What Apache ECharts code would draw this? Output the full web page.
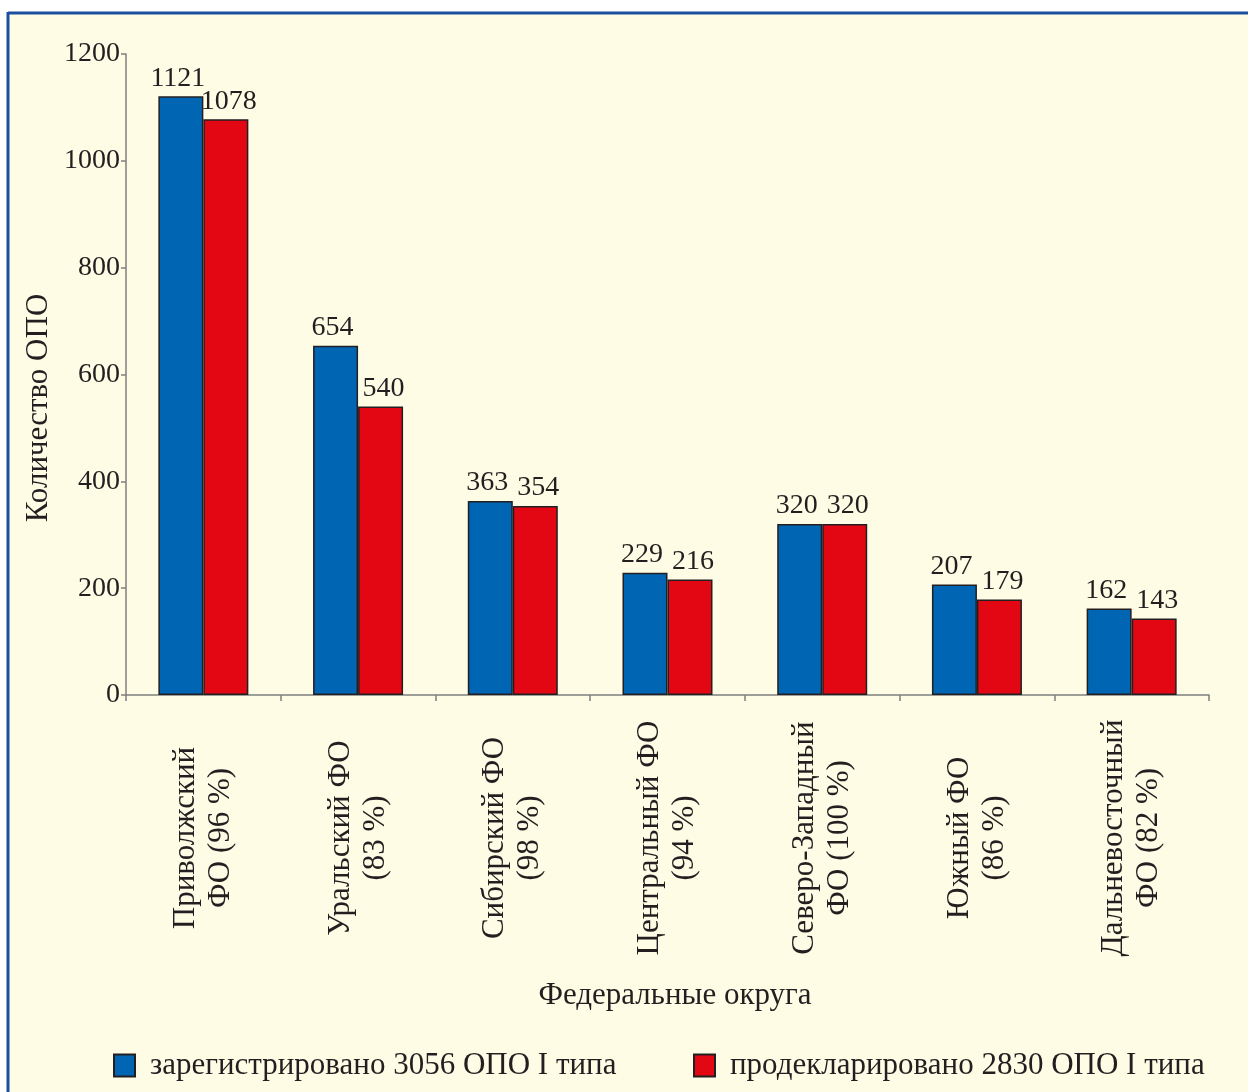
<!DOCTYPE html>
<html>
<head>
<meta charset="utf-8">
<script src="https://cdn.jsdelivr.net/npm/echarts@6/dist/echarts.min.js"></script>
<style>
  html, body { margin: 0; padding: 0; background: #ffffff; }
  #chart { width: 1248px; height: 1092px; }
</style>
</head>
<body>
<div id="chart"></div>
<script>
// Federal districts (share of declared objects in brackets)
const categories = [
  'Приволжский\nФО (96 %)',
  'Уральский ФО\n(83 %)',
  'Сибирский ФО\n(98 %)',
  'Центральный ФО\n(94 %)',
  'Северо-Западный\nФО (100 %)',
  'Южный ФО\n(86 %)',
  'Дальневосточный\nФО (82 %)'
];
const registered = [1121, 654, 363, 229, 320, 207, 162];
const declared = [1078, 540, 354, 216, 320, 179, 143];
const seriesNames = [
  'зарегистрировано 3056 ОПО I типа',
  'продекларировано 2830 ОПО I типа'
];
const yTicks = { min: 0, max: 1200, step: 200 };

const FONT = '"Liberation Serif", "Times New Roman", serif';
const INK = '#231f20';
const AXIS = '#7f7f7f';
const NUM_SIZE = 28;   // digits (ticks, value labels)
const TEXT_SIZE = 31;  // words (axis titles, categories, legend)

const chart = echarts.init(document.getElementById('chart'), null, { renderer: 'canvas' });

// value labels sit a little apart so neighbouring numbers don't touch
function valueLabel(dx) {
  return {
    show: true,
    position: 'top',
    distance: 4,
    offset: [dx, 0],
    fontFamily: FONT,
    fontSize: NUM_SIZE,
    color: INK
  };
}

const legendText = { fontFamily: FONT, fontSize: TEXT_SIZE, color: INK, padding: [0, 0, 0, 10] };

chart.setOption({
  backgroundColor: '#ffffff',
  animation: false,
  textStyle: { fontFamily: FONT, color: INK },
  graphic: [
    { type: 'rect', z: -10, shape: { x: 8, y: 12, width: 1260, height: 1100 }, style: { fill: '#fefce5' } },
    { type: 'line', z: -9, shape: { x1: 8, y1: 13, x2: 1260, y2: 13 }, style: { stroke: '#1b4fa2', lineWidth: 3 } },
    { type: 'line', z: -9, shape: { x1: 8, y1: 12, x2: 8, y2: 1100 }, style: { stroke: '#1b4fa2', lineWidth: 3 } },
    {
      type: 'text', x: 39, y: 408, rotation: Math.PI / 2,
      style: { text: 'Количество ОПО', fontFamily: FONT, fontSize: TEXT_SIZE, fill: INK, align: 'center', verticalAlign: 'middle' }
    },
    {
      type: 'text', x: 675, y: 996,
      style: { text: 'Федеральные округа', fontFamily: FONT, fontSize: TEXT_SIZE, fill: INK, align: 'center', verticalAlign: 'middle' }
    }
  ],
  legend: [
    {
      data: [seriesNames[0]], left: 108, top: 1045,
      itemWidth: 21, itemHeight: 22, icon: 'rect',
      textStyle: legendText
    },
    {
      data: [seriesNames[1]], left: 688, top: 1045,
      itemWidth: 21, itemHeight: 22, icon: 'rect',
      textStyle: legendText
    }
  ],
  grid: { left: 126, right: 39, top: 54, bottom: 397, containLabel: false },
  xAxis: {
    type: 'category',
    data: categories,
    axisLine: { lineStyle: { color: AXIS, width: 1.5 } },
    axisTick: { show: true, length: 6, lineStyle: { color: AXIS, width: 1.5 } },
    axisLabel: {
      rotate: 90,
      align: 'center',
      verticalAlign: 'middle',
      margin: 143,
      interval: 0,
      fontFamily: FONT,
      fontSize: TEXT_SIZE,
      lineHeight: 35,
      color: INK
    }
  },
  yAxis: {
    type: 'value',
    min: yTicks.min,
    max: yTicks.max,
    interval: yTicks.step,
    splitLine: { show: false },
    axisLine: { show: true, lineStyle: { color: AXIS, width: 1.5 } },
    axisTick: { show: true, length: 5, lineStyle: { color: AXIS, width: 1.5 } },
    axisLabel: {
      margin: 6,
      fontFamily: FONT,
      fontSize: NUM_SIZE,
      color: INK,
      formatter: (v) => String(v)
    }
  },
  series: [
    {
      name: seriesNames[0],
      type: 'bar',
      data: registered,
      barWidth: 45,
      barGap: '0%',
      itemStyle: { color: '#0066b3', borderColor: INK, borderWidth: 1.5 },
      label: valueLabel(-3)
    },
    {
      name: seriesNames[1],
      type: 'bar',
      data: declared,
      barWidth: 45,
      barGap: '0%',
      itemStyle: { color: '#e30613', borderColor: INK, borderWidth: 1.5 },
      label: valueLabel(3)
    }
  ]
});
</script>
</body>
</html>
